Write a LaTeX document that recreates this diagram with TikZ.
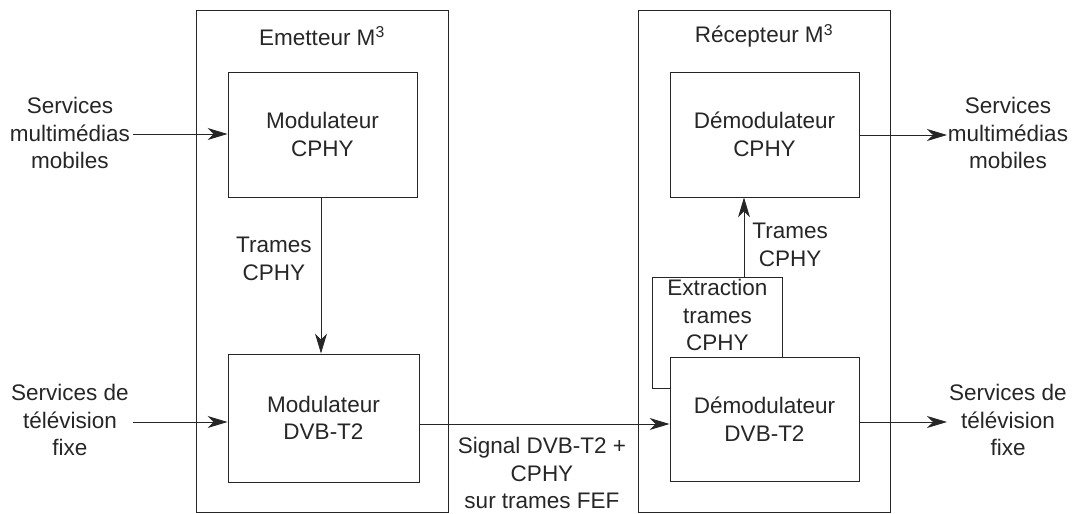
\documentclass[tikz,border=0pt]{standalone}
\usepackage{fontspec}
\setmainfont{Liberation Sans}
\usetikzlibrary{positioning,arrows.meta}

\begin{document}
\begin{tikzpicture}[x=1pt,y=-1pt,
    font=\fontsize{22.5}{27.5}\selectfont,
    line width=0.9pt,
    color=black!85,
    blk/.style={draw, fill=white, align=center, inner sep=0pt, minimum width=189pt},
    lbl/.style={align=center, inner sep=1pt},
    sig/.style={-{Stealth[length=20pt,width=12pt,inset=6pt]}}
]
    \useasboundingbox (0,0) rectangle (1072,514);

    % outer frames
    \draw (196,10) rectangle (448,512);
    \draw (638,10) rectangle (890,512);
    \node[lbl] (emtitle) at (322,36) {Emetteur M\textsuperscript{3}};
    \node[lbl] (rectitle) at (764,36) {Récepteur M\textsuperscript{3}};

    % emitter blocks
    \node[blk, minimum height=125pt] (modcphy) at (322.5,134.5) {Modulateur\\CPHY};
    \node[blk, minimum width=191pt, minimum height=128pt] (moddvb) at (323.5,418) {Modulateur\\DVB-T2};

    % receiver blocks
    \node[blk, minimum height=125pt] (demcphy) at (764.5,134.5) {Démodulateur\\CPHY};
    \node[draw, inner sep=0pt, minimum width=130pt, minimum height=111pt,
          anchor=north west] (extract) at (652,277) {};
    \node[lbl, anchor=north, yshift=-1pt] (extracttxt) at (extract.north) {Extraction\\trames\\CPHY};
    \node[blk, minimum height=124pt] (demdvb) at (764.5,419) {Démodulateur\\DVB-T2};

    % inputs
    \node[lbl] (inmob) at (70,133) {Services\\multimédias\\mobiles};
    \node[lbl] (intv) at (70,420) {Services de\\télévision\\fixe};
    \coordinate (inmobend) at (133,134);
    \coordinate (intvend) at (133,422);
    \draw[sig] (inmobend) -- (inmobend -| modcphy.west);
    \draw[sig] (intvend) -- (intvend -| moddvb.west);

    % emitter: CPHY frames
    \coordinate (trx) at (321,0);
    \draw[sig] (trx |- modcphy.south) -- (trx |- moddvb.north);
    \node[lbl, anchor=east] (trames1) at (313,259) {Trames\\CPHY};

    % link emitter -> receiver
    \coordinate (sigy) at (0,424);
    \draw[sig] (sigy -| moddvb.east) -- (sigy -| demdvb.west);
    \node[lbl] (signal) at (542,473) {Signal DVB-T2 +\\CPHY\\sur trames FEF};

    % receiver: extracted frames
    \coordinate (rtx) at (744,0);
    \draw[sig] (rtx |- extract.north) -- (rtx |- demcphy.south);
    \node[lbl, anchor=west] (trames2) at (751,245) {Trames\\CPHY};

    % outputs
    \node[lbl] (outmob) at (1008,133) {Services\\multimédias\\mobiles};
    \node[lbl] (outtv) at (1008,420) {Services de\\télévision\\fixe};
    \coordinate (outmobend) at (947,135);
    \coordinate (outtvend) at (947,422);
    \draw[sig] (outmobend -| demcphy.east) -- (outmobend);
    \draw[sig] (outtvend -| demdvb.east) -- (outtvend);
\end{tikzpicture}
\end{document}
